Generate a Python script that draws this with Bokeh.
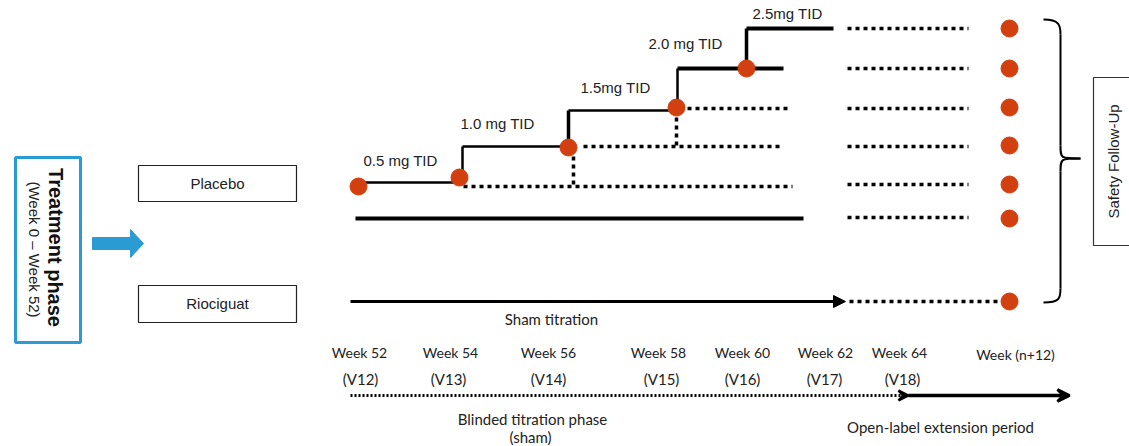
from bokeh.plotting import figure
from bokeh.models import Range1d, Arrow, NormalHead, VeeHead
from bokeh.core.properties import value
from bokeh.embed import file_html
from bokeh.resources import INLINE

FONT = "Liberation Sans"
NARROW = "Lato"
RED = "#D2400F"
BLUE = "#2B9BD3"

# ---- data (diagram positions in reference pixel space) ----
dose_labels = ["0.5 mg TID", "1.0 mg TID", "1.5mg TID", "2.0 mg TID", "2.5mg TID"]
dose_label_x = [400, 497, 615, 685, 787]
dose_label_y = [160, 123, 87, 43, 13]

step_x0 = [357, 462, 462, 568, 568, 677, 677, 746, 746]
step_y0 = [182, 182, 146, 146, 110, 110, 68, 68, 28]
step_x1 = [462, 462, 568, 568, 677, 677, 783, 746, 833]
step_y1 = [182, 146, 146, 110, 110, 68, 68, 28, 28]
step_w = [2.5, 2.5, 2.5, 3.5, 2.5, 2.5, 4, 3.5, 4]

dot_x = [358, 459, 568, 676, 746]
dot_y = [186, 177, 147, 107, 68]

dotted_xs = [[463, 792], [573, 573], [583, 783], [676, 676], [687, 787]]
dotted_ys = [[186, 186], [148, 186], [146, 146], [109, 146], [108, 108]]

fu_rows = [28, 68, 108, 146, 184, 217]
fu_x0, fu_x1 = 847, 968
fu_dot_x = 1009
fu_dot_y = [28, 68, 107, 145, 184, 218, 301]

week_labels = ["Week 52", "Week 54", "Week 56", "Week 58", "Week 60", "Week 62", "Week 64", "Week (n+12)"]
week_x = [359, 450, 548, 658, 742, 825, 899, 1015]
visit_labels = ["(V12)", "(V13)", "(V14)", "(V15)", "(V16)", "(V17)", "(V18)"]
visit_x = [360, 448, 548, 661, 742, 824, 902]

p = figure(width=1129, height=446, output_backend="svg", toolbar_location=None,
           x_range=Range1d(0, 1129), y_range=Range1d(446, 0), min_border=0)
p.axis.visible = False
p.grid.visible = False
p.outline_line_color = None
p.background_fill_color = "white"

# ---- left part ----
p.quad(left=[15], right=[80], top=[157], bottom=[342], fill_color="white",
       line_color=BLUE, line_width=3)
p.text(x=[55], y=[247], text=["Treatment phase"], angle=-1.5708, text_align="center",
       text_baseline="middle", text_font=value(FONT), text_font_style="bold",
       text_font_size="20px", text_color="#111111")
p.text(x=[34], y=[249], text=["(Week 0 \u2013 Week 52)"], angle=-1.5708, text_align="center",
       text_baseline="middle", text_font=value(FONT), text_font_size="15px",
       text_color="#222222")
p.patch(x=[92, 130, 130, 143, 130, 130, 92], y=[237, 237, 229, 243, 257, 249, 249],
        fill_color=BLUE, line_color=BLUE)

arm_labels = ["Placebo", "Riociguat"]
arm_y = [183, 303]
p.quad(left=[138, 138], right=[296, 296], top=[165, 285], bottom=[201, 322],
       fill_color="white", line_color="#222222", line_width=1.2)
p.text(x=[217, 217], y=arm_y, text=arm_labels, text_align="center", text_baseline="middle",
       text_font=value(FONT), text_font_size="15px", text_color="#222222")

# ---- titration steps ----
p.segment(x0=step_x0, y0=step_y0, x1=step_x1, y1=step_y1, line_width=step_w,
          line_color="black")
p.multi_line(xs=dotted_xs, ys=dotted_ys, line_color="black", line_width=3.5,
             line_dash="4 4")
p.segment(x0=[355], y0=[218], x1=[803], y1=[218], line_width=4, line_color="black")
p.text(x=dose_label_x, y=dose_label_y, text=dose_labels, text_align="center",
       text_baseline="middle", text_font=value(FONT), text_font_size="15px",
       text_color="#222222")
p.scatter(x=dot_x, y=dot_y, size=17, fill_color=RED, line_color=RED)

# ---- sham titration ----
p.add_layout(Arrow(end=NormalHead(size=12, fill_color="black", line_color="black"),
                   x_start=350, y_start=301, x_end=845, y_end=301,
                   line_width=3, line_color="black"))
p.text(x=[551], y=[318], text=["Sham titration"], text_align="center",
       text_baseline="middle", text_font=value(NARROW), text_font_size="15px",
       text_color="#222222")

# ---- follow-up ----
p.multi_line(xs=[[fu_x0, fu_x1]] * len(fu_rows), ys=[[r, r] for r in fu_rows],
             line_color="black", line_width=3.5, line_dash="4 4")
p.multi_line(xs=[[849, 998]], ys=[[301, 301]], line_color="black", line_width=3.5,
             line_dash="4 4")
p.scatter(x=[fu_dot_x] * len(fu_dot_y), y=fu_dot_y, size=17, fill_color=RED, line_color=RED)

# brace
p.bezier(x0=[1043, 1060, 1080], y0=[19, 145, 158], x1=[1060, 1080, 1060],
         y1=[34, 158, 171], cx0=[1059, 1060, 1060], cy0=[19, 158, 158],
         cx1=[1060, 1060, 1060], cy1=[25, 158, 158], line_color="black", line_width=2)
p.segment(x0=[1060, 1060], y0=[34, 171], x1=[1060, 1060], y1=[145, 288],
          line_color="black", line_width=2)
p.bezier(x0=[1060], y0=[288], x1=[1043], y1=[302], cx0=[1060], cy0=[298],
         cx1=[1059], cy1=[302], line_color="black", line_width=2)

p.quad(left=[1093], right=[1160], top=[77], bottom=[245], fill_color="white",
       line_color="#333333", line_width=1.2)
p.text(x=[1113], y=[161], text=["Safety Follow-Up"], angle=1.5708, text_align="center",
       text_baseline="middle", text_font=value(FONT), text_font_size="15px",
       text_color="#222222")

# ---- timeline ----
p.text(x=week_x[:-1], y=[352] * (len(week_x) - 1), text=week_labels[:-1], text_align="center",
       text_baseline="middle", text_font=value(NARROW), text_font_size="14px",
       text_color="#222222")
p.text(x=[week_x[-1]], y=[354], text=[week_labels[-1]], text_align="center",
       text_baseline="middle", text_font=value(NARROW), text_font_size="14px",
       text_color="#222222")
p.text(x=visit_x, y=[378] * len(visit_x), text=visit_labels, text_align="center",
       text_baseline="middle", text_font=value(NARROW), text_font_size="15px",
       text_color="#222222")

p.add_layout(Arrow(end=VeeHead(size=10, line_color="black", line_width=2.5),
                   x_start=350, y_start=395, x_end=908, y_end=395,
                   line_width=3, line_color="black", line_dash="2 2"))
p.add_layout(Arrow(end=VeeHead(size=12, line_color="black", line_width=3),
                   x_start=908, y_start=395, x_end=1069, y_end=395,
                   line_width=3.5, line_color="black"))

p.text(x=[532, 530], y=[418, 436], text=["Blinded titration phase", "(sham)"],
       text_align="center", text_baseline="middle", text_font=value(NARROW),
       text_font_size="15px", text_color="#222222")
p.text(x=[940], y=[426], text=["Open-label extension period"], text_align="center",
       text_baseline="middle", text_font=value(NARROW), text_font_size="15px",
       text_color="#222222")

open("out.html", "w").write(file_html(p, INLINE))
